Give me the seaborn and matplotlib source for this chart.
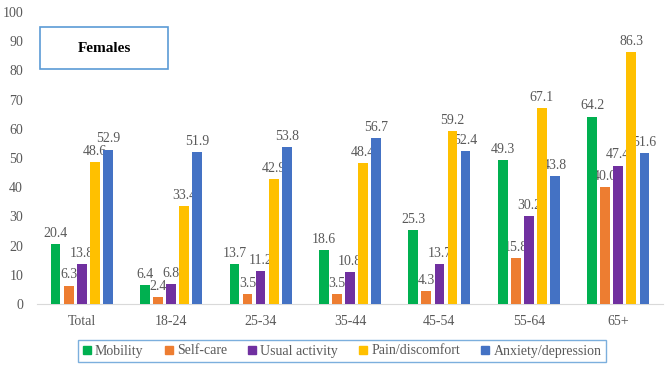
import pandas as pd
import matplotlib.pyplot as plt
import seaborn as sns
from matplotlib.lines import Line2D
from matplotlib.patches import Rectangle

# EQ-5D problem prevalence among females (%)
groups = ['Total', '18-24', '25-34', '35-44', '45-54', '55-64', '65+']
dimensions = ['Mobility', 'Self-care', 'Usual activity', 'Pain/discomfort', 'Anxiety/depression']
mobility = [20.4, 6.4, 13.7, 18.6, 25.3, 49.3, 64.2]
self_care = [6.3, 2.4, 3.5, 3.5, 4.3, 15.8, 40.0]
usual_activity = [13.8, 6.8, 11.2, 10.8, 13.7, 30.2, 47.4]
pain_discomfort = [48.6, 33.4, 42.9, 48.4, 59.2, 67.1, 86.3]
anxiety_depression = [52.9, 51.9, 53.8, 56.7, 52.4, 43.8, 51.6]
colors = ['#00B050', '#ED7D31', '#7030A0', '#FFC000', '#4472C4']

series = [mobility, self_care, usual_activity, pain_discomfort, anxiety_depression]
rows = []
for dim, vals in zip(dimensions, series):
    for g, v in zip(groups, vals):
        rows.append({'group': g, 'dimension': dim, 'value': v})
df = pd.DataFrame(rows)

plt.rcParams['font.family'] = ['Liberation Serif', 'DejaVu Serif']
text_col = '#595959'

fig = plt.figure(figsize=(6.69, 3.69), dpi=100)
ax = fig.add_axes([37 / 669, 65 / 369, 626 / 669, 292 / 369])

sns.barplot(data=df, x='group', y='value', hue='dimension', order=groups,
            hue_order=dimensions, palette=colors, width=0.73, gap=0.25,
            saturation=1, errorbar=None, ax=ax, zorder=3)

for cont in ax.containers:
    labels = ax.bar_label(cont, fmt='%.1f', padding=3, fontsize=10, color=text_col)
    for t in labels:
        t.set_zorder(2)

ax.set_ylim(0, 100)
ax.set_yticks(range(0, 101, 10))
ax.set_xlim(-0.5, len(groups) - 0.5)
ax.set_xlabel('')
ax.set_ylabel('')
ax.tick_params(axis='both', length=0, labelsize=10, colors=text_col, pad=8)
ax.tick_params(axis='y', pad=10)
for side in ['top', 'right', 'left']:
    ax.spines[side].set_visible(False)
ax.spines['bottom'].set_color('#D9D9D9')
ax.set_facecolor('none')

# title box
fig.patches.append(Rectangle((40 / 669, 1 - 69 / 369), 128 / 669, 42 / 369,
                             transform=fig.transFigure, fill=False,
                             edgecolor='#5B9BD5', linewidth=1.2))
fig.text(104 / 669, 1 - 48 / 369, 'Females', ha='center', va='center',
         fontsize=11, fontweight='bold', color='black')

handles = [Line2D([], [], marker='s', linestyle='', color=c, markersize=6) for c in colors]
leg = ax.legend(handles, dimensions, loc='center', ncol=5,
                bbox_to_anchor=(342 / 669, 18 / 369), bbox_transform=fig.transFigure,
                frameon=True, fancybox=False, fontsize=10, handlelength=0.6,
                handletextpad=0.3, columnspacing=1.5, borderpad=0.35,
                labelcolor=text_col)
leg.get_frame().set_edgecolor('#5B9BD5')
leg.get_frame().set_linewidth(1.0)

fig.savefig('out.png', dpi=100)
